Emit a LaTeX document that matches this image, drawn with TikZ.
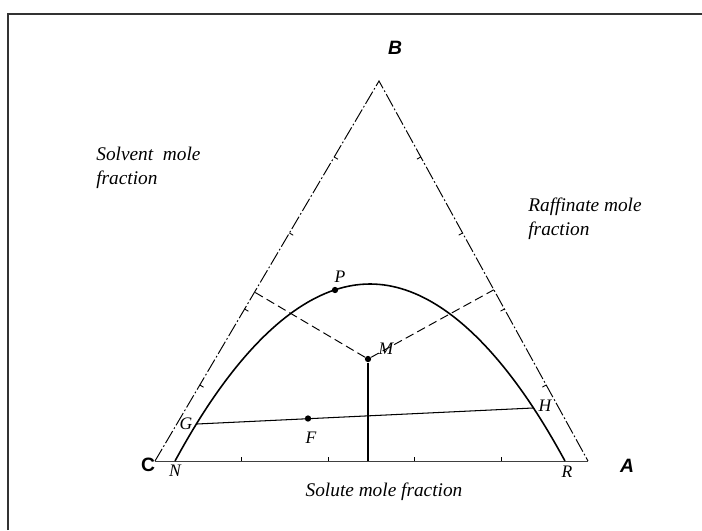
\documentclass[tikz,border=0pt]{standalone}
\usepackage{fontspec}
\setmainfont{Liberation Serif}
\setsansfont{Liberation Sans}
\usetikzlibrary{calc}
\tikzset{
  frame/.style     = {line width=0.9pt, black!80},
  side/.style      = {line width=0.55pt, dash pattern=on 8pt off 1.4pt on 1pt off 1.4pt},
  base side/.style = {line width=0.5pt, black!75},
  binodal/.style   = {line width=0.9pt},
  tieline/.style   = {line width=0.6pt},
  guide/.style     = {dash pattern=on 5pt off 2.5pt, line width=0.55pt},
  tickmark/.style  = {line width=0.5pt},
  pt dot/.style    = {circle, fill=black, inner sep=0pt, minimum size=3.6pt},
  ptlabel/.style   = {font=\itshape\normalsize, inner sep=1pt},
  corner/.style    = {font=\sffamily\bfseries\fontsize{11}{13}\selectfont},
  axislabel/.style = {font=\itshape\fontsize{11}{13.5}\selectfont, align=left, inner sep=0pt},
}

\begin{document}
\begin{tikzpicture}[x=0.02cm, y=-0.02cm]
  \useasboundingbox (0,0) rectangle (702,530);
  \draw[frame] (8,530) -- (8,14) -- (702,14);

  % triangle corners
  \coordinate (B) at (379,81);
  \coordinate (C) at (155,461);
  \coordinate (A) at (588,461);

  \draw[side] (C) -- (B) -- (A);
  \draw[base side] (C) -- (A);

  % 0.2 divisions on the sides
  \foreach \f in {0.2,0.4,0.6,0.8} {
    \draw[tickmark] ($(B)!\f!(C)$) -- ($($(B)!\f!(C)$)!2.5pt!-90:(B)$);
    \draw[tickmark] ($(B)!\f!(A)$) -- ($($(B)!\f!(A)$)!2.5pt!90:(B)$);
    \draw[tickmark] ($(C)!\f!(A)$) -- ($($(C)!\f!(A)$)!2.5pt!90:(A)$);
  }

  % solubility curve
  \coordinate (N)   at (175,461);
  \coordinate (R)   at (565,461);
  \coordinate (top) at (370,284);
  \draw[binodal] (N) parabola bend (top) (R);

  % tie line and mixture point
  \coordinate (G) at (197,424);
  \coordinate (H) at (533,408);
  \draw[tieline] (G) -- (H);

  \node[pt dot] (P) at (335,290) {};
  \node[pt dot] (M) at (368,359) {};
  \node[pt dot] (F) at (308,418.5) {};

  \coordinate (ML) at ($(B)!(M)!(C)$);
  \coordinate (MR) at ($(B)!(M)!(A)$);
  \coordinate (MB) at ($(C)!(M)!(A)$);
  \draw[guide] (M) -- (ML);
  \draw[guide] (M) -- (MR);
  \draw[tieline] (M) -- (MB);

  \node[ptlabel] (Plab) at (340,277) {P};
  \node[ptlabel] (Mlab) at (386,349) {M};
  \node[ptlabel] (Glab) at (186,424) {G};
  \node[ptlabel] (Flab) at (311,438) {F};
  \node[ptlabel] (Hlab) at (545,406) {H};
  \node[ptlabel] (Nlab) at (175,471) {N};
  \node[ptlabel] (Rlab) at (567,472) {R};

  \node[corner] (Blab) at (395,48) {\itshape B};
  \node[corner] (Clab) at (148,465) {C};
  \node[corner] (Alab) at (627,466) {\itshape A};

  \node[axislabel, anchor=north west] (solvent) at (96,147) {Solvent\ \ mole\\fraction};
  \node[axislabel, anchor=north west] (raffinate) at (528,198) {Raffinate mole\\fraction};
  \node[axislabel] (solute) at (384,492) {Solute mole fraction};
\end{tikzpicture}
\end{document}
